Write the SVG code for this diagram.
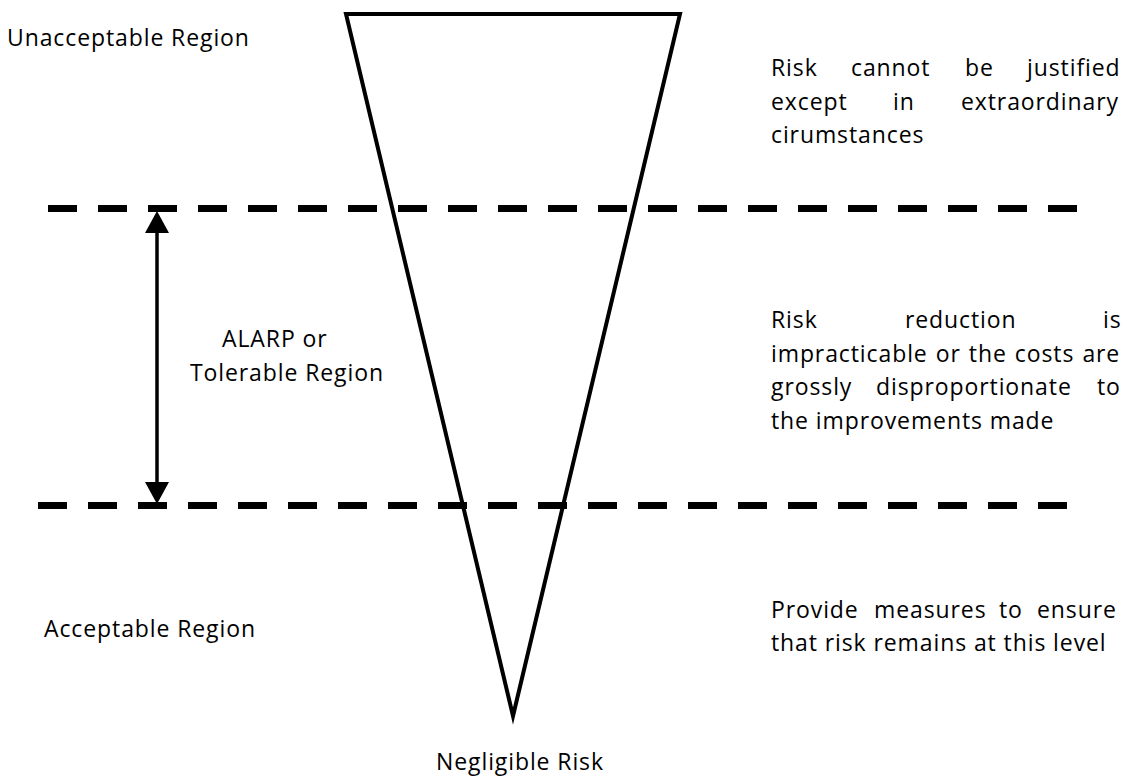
<svg xmlns="http://www.w3.org/2000/svg" width="1127" height="778" viewBox="0 0 1127 778">
  <style>
    .lbl { font-family: "Open Sans", "Liberation Sans", sans-serif; font-size: 23px; letter-spacing: 0.9px; fill: #000; }
    .mid { text-anchor: middle; }
    .boundary { stroke: #000; stroke-width: 7; stroke-dasharray: 29 21; fill: none; }
    .funnel { stroke: #000; stroke-width: 4; fill: #fff; stroke-linejoin: miter; stroke-miterlimit: 10; }
    .span { stroke: #000; stroke-width: 3.5; fill: none; }
  </style>
  <defs>
    <marker id="head" markerUnits="userSpaceOnUse" viewBox="0 0 22 24" markerWidth="22" markerHeight="24" refX="8" refY="12" orient="auto-start-reverse">
      <path d="M0,0 L22,12 L0,24 z" fill="#000"/>
    </marker>
  </defs>

  <rect width="1127" height="778" fill="#fff"/>

  <!-- risk funnel -->
  <g id="funnel">
    <polygon class="funnel" points="346,14 680,14 513,716"/>
  </g>

  <!-- region boundaries and the tolerable span arrow -->
  <g id="connectors">
    <line class="boundary" x1="48" y1="208.5" x2="1077" y2="208.5"/>
    <line class="boundary" x1="38" y1="505.5" x2="1067" y2="505.5"/>
    <line class="span" x1="157" y1="225" x2="157" y2="490" marker-start="url(#head)" marker-end="url(#head)"/>
  </g>

  <!-- region names -->
  <g id="unacceptable-region">
    <text class="lbl" x="7" y="46">Unacceptable Region</text>
  </g>
  <g id="tolerable-region">
    <text class="lbl" x="222" y="347">ALARP or</text>
    <text class="lbl" x="190" y="381">Tolerable Region</text>
  </g>
  <g id="acceptable-region">
    <text class="lbl" x="44" y="637">Acceptable Region</text>
  </g>
  <g id="negligible-risk">
    <text class="lbl mid" x="520" y="770">Negligible Risk</text>
  </g>

  <!-- region descriptions, justified between x=771 and x=1119 -->
  <g id="unacceptable-note">
    <text class="lbl" y="76"><tspan x="771">Risk</tspan><tspan x="851">cannot</tspan><tspan x="965">be</tspan><tspan x="1027">justified</tspan></text>
    <text class="lbl" y="110"><tspan x="771">except</tspan><tspan x="893">in</tspan><tspan x="961">extraordinary</tspan></text>
    <text class="lbl" x="771" y="143">cirumstances</text>
  </g>
  <g id="tolerable-note">
    <text class="lbl" y="328"><tspan x="771">Risk</tspan><tspan x="905">reduction</tspan><tspan x="1103">is</tspan></text>
    <text class="lbl" x="771" y="362" word-spacing="1.2">impracticable or the costs are</text>
    <text class="lbl" y="395"><tspan x="771">grossly</tspan><tspan x="876">disproportionate</tspan><tspan x="1097">to</tspan></text>
    <text class="lbl" x="771" y="429">the improvements made</text>
  </g>
  <g id="acceptable-note">
    <text class="lbl" y="618"><tspan x="771">Provide</tspan><tspan x="874">measures</tspan><tspan x="999">to</tspan><tspan x="1037">ensure</tspan></text>
    <text class="lbl" x="771" y="651">that risk remains at this level</text>
  </g>
</svg>
